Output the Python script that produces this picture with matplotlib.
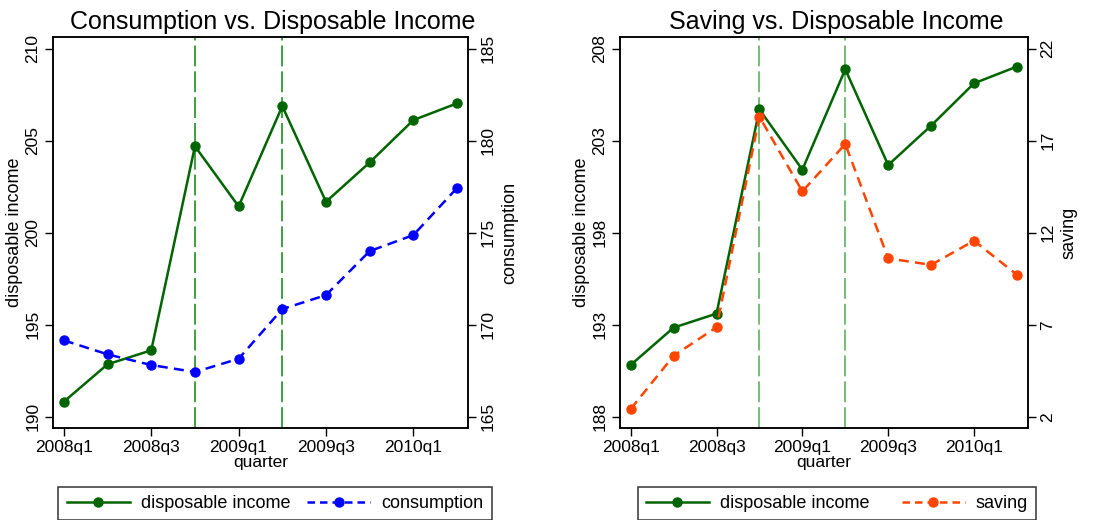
import matplotlib
matplotlib.use("Agg")
import matplotlib.pyplot as plt
from matplotlib.lines import Line2D

plt.rcParams['font.family'] = ['Liberation Sans', 'DejaVu Sans']

# quarterly data, 2008q1 .. 2010q2
quarters = ['2008q1', '2008q2', '2008q3', '2008q4', '2009q1',
            '2009q2', '2009q3', '2009q4', '2010q1', '2010q2']
disp_income = [190.82, 192.85, 193.61, 204.70, 201.43,
               206.88, 201.68, 203.82, 206.12, 207.03]
consumption = [169.15, 168.39, 167.81, 167.43, 168.15,
               170.85, 171.61, 174.00, 174.87, 177.43]
saving = [2.43, 5.32, 6.87, 18.30, 14.25,
          16.82, 10.61, 10.26, 11.57, 9.72]
tick_labels = ['2008q1', '2008q3', '2009q1', '2009q3', '2010q1']
events = ['2008q4', '2009q2']

x = list(range(len(quarters)))
tick_pos = [quarters.index(q) for q in tick_labels]
event_pos = [quarters.index(q) for q in events]

GREEN = '#006400'
BLUE = '#0000ff'
ORANGE = '#ff4500'

fig = plt.figure(figsize=(10.99, 5.2), dpi=100)


def panel(rect, title, y2, y2label, c2, y1lim, y1ticks, y2lim, y2ticks, vcol):
    ax = fig.add_axes(rect)
    ax2 = ax.twinx()
    for xv in event_pos:
        ax.axvline(xv, color=vcol, lw=1.2, dashes=(12.5, 3), zorder=1)
    ax.plot(x, disp_income, color=GREEN, lw=1.8, marker='o', ms=6.5, zorder=3)
    ax2.plot(x, y2, color=c2, lw=1.8, ls=(0, (4, 2.5)), marker='o', ms=6.5)
    ax.set_xlim(-0.25, 9.25)
    ax.set_ylim(*y1lim)
    ax2.set_ylim(*y2lim)
    ax.set_yticks(y1ticks)
    ax2.set_yticks(y2ticks)
    ax.set_xticks(tick_pos)
    ax.set_xticklabels(tick_labels)
    for a in (ax, ax2):
        a.tick_params(axis='both', direction='out', length=6, width=1,
                      labelsize=12.5, pad=3)
        for s in a.spines.values():
            s.set_linewidth(1.1)
    for lab in ax.get_yticklabels() + ax2.get_yticklabels():
        lab.set_rotation(90)
        lab.set_va('center')
    ax.set_xlabel('quarter', fontsize=12.5, labelpad=0)
    ax.set_ylabel('disposable income', fontsize=13, labelpad=2)
    ax2.set_ylabel(y2label, fontsize=13, labelpad=4)
    # title is centred over the whole panel (incl. right axis), not the plot box
    ax.set_title(title, fontsize=18, pad=6, x=0.53)
    return ax, ax2


panel([0.0482, 0.177, 0.3776, 0.752], 'Consumption vs. Disposable Income',
      consumption, 'consumption', BLUE,
      (189.39, 210.64), [190, 195, 200, 205, 210],
      (164.39, 185.64), [165, 170, 175, 180, 185], '#1f8f1f')
panel([0.5641, 0.177, 0.371, 0.752], 'Saving vs. Disposable Income',
      saving, 'saving', ORANGE,
      (187.40, 208.64), [188, 193, 198, 203, 208],
      (1.40, 22.64), [2, 7, 12, 17, 22], '#5cb25c')


def legend(cx, label2, c2, spacing):
    h1 = Line2D([], [], color=GREEN, lw=1.8, marker='o', ms=6.5)
    h2 = Line2D([], [], color=c2, lw=1.8, ls=(0, (3, 2)), marker='o', ms=6.5)
    lg = fig.legend([h1, h2], ['disposable income', label2], loc='upper center',
                    bbox_to_anchor=(cx, 0.064), ncol=2, fontsize=13,
                    frameon=True, fancybox=False, edgecolor='black',
                    handlelength=3.5, handletextpad=0.6, columnspacing=spacing,
                    borderpad=0.45, borderaxespad=0)
    lg.get_frame().set_linewidth(1.1)


legend(0.2502, 'consumption', BLUE, 0.95)
legend(0.7615, 'saving', ORANGE, 1.8)

fig.savefig('out.png', dpi=100)
